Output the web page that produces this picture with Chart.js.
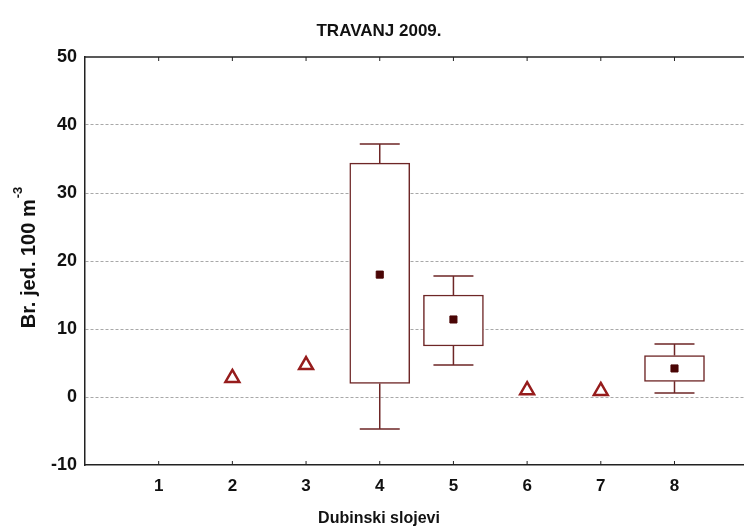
<!DOCTYPE html>
<html>
<head>
<meta charset="utf-8">
<script src="https://cdn.jsdelivr.net/npm/chart.js@4"></script>
<style>
  html, body { margin: 0; padding: 0; background: #fff; overflow: hidden; }
  #wrap { width: 755px; height: 529px; }
</style>
</head>
<body>
<div id="wrap"><canvas id="canvas"></canvas></div>
<script>
// depth layers on the x axis
const categories = [1, 2, 3, 4, 5, 6, 7, 8];
const yTicks = [-10, 0, 10, 20, 30, 40, 50];

// layers with a box (mean, box, whiskers)
const boxCats = [4, 5, 8];
const boxMean = [18.0, 11.4, 4.2];
const boxLow = [2.0, 7.5, 2.3];
const boxHigh = [34.4, 15.0, 6.1];
const whiskLow = [-4.7, 4.7, 0.6];
const whiskHigh = [37.2, 17.8, 7.8];

// layers with a single value (triangles)
const singleCats = [2, 3, 6, 7];
const singleVals = [2.8, 4.7, 1.0, 0.9];

const FONT = '"Liberation Sans", Arial, sans-serif';
const BOX_COLOR = '#6e2626';

const decor = {
  id: 'decor',
  beforeDatasetsDraw(chart) {
    const ctx = chart.ctx;
    const x = chart.scales.x, y = chart.scales.y;
    ctx.save();
    ctx.strokeStyle = BOX_COLOR;
    ctx.lineWidth = 1.5;
    boxCats.forEach((c, i) => {
      const px = x.getPixelForValue(c);
      const half = 20;
      [[boxHigh[i], whiskHigh[i]], [boxLow[i], whiskLow[i]]].forEach(([a, b]) => {
        const ya = y.getPixelForValue(a), yb = y.getPixelForValue(b);
        ctx.beginPath();
        ctx.moveTo(px, ya); ctx.lineTo(px, yb);
        ctx.moveTo(px - half, yb); ctx.lineTo(px + half, yb);
        ctx.stroke();
      });
    });
    ctx.restore();
  },
  afterDraw(chart) {
    const ctx = chart.ctx;
    const a = chart.chartArea;
    const x = chart.scales.x;
    ctx.save();
    // top frame line
    ctx.strokeStyle = '#222';
    ctx.lineWidth = 1.5;
    ctx.beginPath();
    ctx.moveTo(a.left, a.top); ctx.lineTo(a.right, a.top);
    ctx.stroke();
    // inner tick marks top and bottom
    ctx.lineWidth = 1;
    categories.forEach(c => {
      const px = x.getPixelForValue(c);
      ctx.beginPath();
      ctx.moveTo(px, a.bottom); ctx.lineTo(px, a.bottom - 4);
      ctx.moveTo(px, a.top); ctx.lineTo(px, a.top + 4);
      ctx.stroke();
    });
    // titles
    ctx.fillStyle = '#111';
    ctx.textAlign = 'center';
    ctx.textBaseline = 'middle';
    ctx.font = 'bold 17px ' + FONT;
    ctx.fillText('TRAVANJ 2009.', 379, 31);
    ctx.font = 'bold 16px ' + FONT;
    ctx.fillText('Dubinski slojevi', 379, 519);
    // y title with superscript
    ctx.translate(29, 258);
    ctx.rotate(-Math.PI / 2);
    const main = 'Br. jed. 100 m', sup = '-3';
    ctx.font = 'bold 20px ' + FONT;
    const wm = ctx.measureText(main).width;
    ctx.font = 'bold 13px ' + FONT;
    const ws = ctx.measureText(sup).width;
    const start = -(wm + ws) / 2;
    ctx.textAlign = 'left';
    ctx.font = 'bold 20px ' + FONT;
    ctx.fillText(main, start, 0);
    ctx.font = 'bold 13px ' + FONT;
    ctx.fillText(sup, start + wm + 1, -11);
    ctx.restore();
  }
};

new Chart(document.getElementById('canvas'), {
  type: 'bar',
  data: {
    datasets: [
      {
        type: 'scatter',
        label: 'mean',
        data: boxCats.map((c, i) => ({ x: c, y: boxMean[i] })),
        pointStyle: 'rect',
        pointRadius: 5,
        backgroundColor: '#4a0505',
        borderColor: '#4a0505',
        borderWidth: 1,
        order: 0,
      },
      {
        type: 'scatter',
        label: 'single',
        data: singleCats.map((c, i) => ({ x: c, y: singleVals[i] })),
        pointStyle: 'triangle',
        pointRadius: 8,
        backgroundColor: '#ffffff',
        borderColor: '#961c1c',
        borderWidth: 2.5,
        order: 0,
      },
      {
        label: 'box',
        data: boxCats.map((c, i) => ({ x: c, y: [boxLow[i], boxHigh[i]] })),
        backgroundColor: '#ffffff',
        borderColor: BOX_COLOR,
        borderWidth: 1.5,
        borderSkipped: false,
        barThickness: 60,
        grouped: false,
        order: 1,
      },
    ],
  },
  options: {
    animation: false,
    responsive: true,
    maintainAspectRatio: false,
    layout: { padding: { top: 57, right: 0, left: 0, bottom: 0 } },
    plugins: {
      legend: { display: false },
      tooltip: { enabled: false },
      title: { display: false },
    },
    scales: {
      x: {
        type: 'linear',
        min: 0,
        max: 8.95,
        offset: false,
        afterBuildTicks: (s) => { s.ticks = categories.map(v => ({ value: v })); },
        afterFit: (s) => { s.height = 64; },
        grid: { display: false, drawTicks: false },
        border: { display: true, color: '#222', width: 1.5 },
        ticks: {
          padding: 11,
          color: '#111',
          font: { family: FONT, size: 17, weight: 'bold' },
          maxRotation: 0,
        },
      },
      y: {
        min: -10,
        max: 50,
        afterBuildTicks: (s) => { s.ticks = yTicks.map(v => ({ value: v })); },
        afterFit: (s) => { s.width = 85; },
        grid: {
          drawTicks: false,
          color: (c) => (c.tick && (c.tick.value === -10 || c.tick.value === 50)) ? 'rgba(0,0,0,0)' : '#a8a8a8',
          lineWidth: 1,
        },
        border: { display: true, color: '#222', width: 1.5, dash: [3, 2] },
        ticks: {
          padding: 8,
          color: '#111',
          font: { family: FONT, size: 18, weight: 'bold' },
        },
      },
    },
  },
  plugins: [decor],
});
</script>
</body>
</html>
